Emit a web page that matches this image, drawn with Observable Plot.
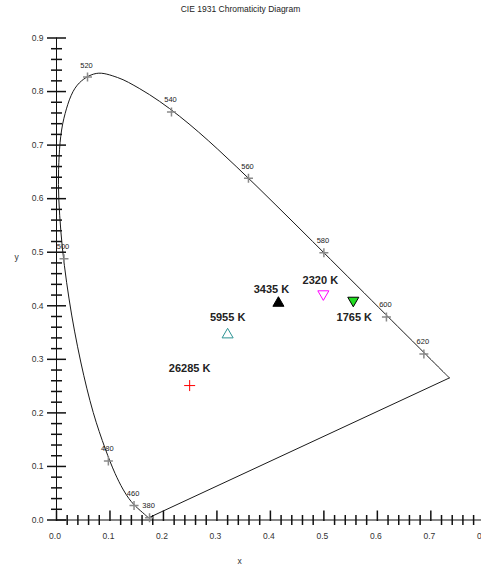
<!DOCTYPE html>
<html><head><meta charset="utf-8">
<script src="https://cdn.jsdelivr.net/npm/d3@7"></script>
<script src="https://cdn.jsdelivr.net/npm/@observablehq/plot@0.6"></script>
<style>
body{margin:0;background:#fff;}
#wrap{position:relative;width:481px;height:571px;overflow:hidden;font-family:"Liberation Sans",Arial,sans-serif;background:#fff;}
#title{position:absolute;top:4px;left:0;width:481px;text-align:center;font-size:8.5px;color:#222;line-height:10px;}
#chart{position:absolute;top:0;left:0;width:490px;}
#chart svg{max-width:none !important;width:490px !important;height:571px !important;}
</style></head><body>
<div id="wrap"><div id="title">CIE 1931 Chromaticity Diagram</div><div id="chart"></div></div>
<script>
// CIE 1931 spectral locus (5 nm steps, 380–700 nm)
const locusNm = [380,385,390,395,400,405,410,415,420,425,430,435,440,445,450,455,460,465,470,475,480,485,490,495,500,505,510,515,520,525,530,535,540,545,550,555,560,565,570,575,580,585,590,595,600,605,610,615,620,625,630,635,640,645,650,655,660,665,670,675,680,685,690,695,700];
const locusX = [0.1741,0.1740,0.1738,0.1736,0.1733,0.1730,0.1726,0.1721,0.1714,0.1703,0.1689,0.1669,0.1644,0.1611,0.1566,0.1510,0.1440,0.1355,0.1241,0.1096,0.0913,0.0687,0.0454,0.0235,0.0082,0.0039,0.0139,0.0389,0.0743,0.1142,0.1547,0.1929,0.2296,0.2658,0.3016,0.3373,0.3731,0.4087,0.4441,0.4788,0.5125,0.5448,0.5752,0.6029,0.6270,0.6482,0.6658,0.6801,0.6915,0.7006,0.7079,0.7140,0.7190,0.7230,0.7260,0.7283,0.7300,0.7311,0.7320,0.7327,0.7334,0.7340,0.7344,0.7346,0.7347];
const locusY = [0.0050,0.0050,0.0049,0.0049,0.0048,0.0048,0.0048,0.0048,0.0051,0.0058,0.0069,0.0086,0.0109,0.0138,0.0177,0.0227,0.0297,0.0399,0.0578,0.0868,0.1327,0.2007,0.2950,0.4127,0.5384,0.6548,0.7502,0.8120,0.8338,0.8262,0.8059,0.7816,0.7543,0.7243,0.6923,0.6589,0.6245,0.5896,0.5547,0.5202,0.4866,0.4544,0.4242,0.3965,0.3725,0.3514,0.3340,0.3197,0.3083,0.2993,0.2920,0.2859,0.2809,0.2770,0.2740,0.2717,0.2700,0.2689,0.2680,0.2673,0.2666,0.2660,0.2656,0.2654,0.2653];

// labelled wavelength markers
const markLabels = ["380","460","480","500","520","540","560","580","600","620"];
const markX = [0.174,0.145,0.097,0.014,0.058,0.215,0.359,0.500,0.617,0.687];
const markY = [0.004,0.027,0.110,0.488,0.827,0.762,0.638,0.499,0.379,0.310];

// colour temperature points
const cctLabels = ["26285 K","5955 K","3435 K","2320 K","1765 K"];
const cctX = [0.249,0.320,0.415,0.499,0.555];
const cctY = [0.251,0.346,0.405,0.422,0.410];

// axis ticks
const xTickLabels = ["0.0","0.1","0.2","0.3","0.4","0.5","0.6","0.7","0.8"];
const yTickLabels = ["0.0","0.1","0.2","0.3","0.4","0.5","0.6","0.7","0.8","0.9"];
const xMajor = xTickLabels.map(Number);
const yMajor = yTickLabels.map(Number);
const xMinor = d3.range(0, 41).map(i => i / 50).filter(v => Math.round(v * 50) % 5 !== 0);
const yMinor = d3.range(0, 46).map(i => i / 50).filter(v => Math.round(v * 50) % 5 !== 0);

const locus = locusNm.map((nm, i) => ({nm, x: locusX[i], y: locusY[i]}));
const purpleLine = [locus[locus.length - 1], locus[0]];
const marks = markLabels.map((t, i) => ({t, x: markX[i], y: markY[i]}));
const ccts = cctLabels.map((t, i) => ({t, x: cctX[i], y: cctY[i]}));

const hLine = l => ({draw(c){ c.moveTo(-l, 0); c.lineTo(l, 0); }});
const vLine = l => ({draw(c){ c.moveTo(0, -l); c.lineTo(0, l); }});
const vUp = l => ({draw(c){ c.moveTo(0, 1); c.lineTo(0, -l); }});
const plus = l => ({draw(c){ c.moveTo(-l, 0); c.lineTo(l, 0); c.moveTo(0, -l); c.lineTo(0, l); }});

const fontAxis = 8.5;
const byName = (...names) => d => names.includes(d.t);

const chart = Plot.plot({
  width: 490, height: 571,
  marginLeft: 56, marginRight: 6.2, marginTop: 37.5, marginBottom: 51.5,
  x: {domain: [0, 0.8], axis: null},
  y: {domain: [0, 0.9], axis: null},
  style: {fontFamily: "'Liberation Sans', Arial, sans-serif", background: "transparent"},
  marks: [
    Plot.ruleY([0], {stroke: "#111", strokeWidth: 1}),
    Plot.ruleX([0], {stroke: "#111", strokeWidth: 1}),
    Plot.dot(yMajor, {x: 0, y: d => d, r: 1, symbol: hLine(9.5), stroke: "#111", fill: "none"}),
    Plot.dot(yMinor, {x: 0, y: d => d, r: 1, symbol: hLine(5.5), stroke: "#111", fill: "none"}),
    Plot.dot(xMajor, {x: d => d, y: 0, r: 1, symbol: vUp(9.5), stroke: "#111", fill: "none"}),
    Plot.dot(xMinor, {x: d => d, y: 0, r: 1, symbol: vLine(5), stroke: "#111", fill: "none"}),
    Plot.text(yTickLabels, {x: 0, y: d => +d, text: d => d, dx: -13, textAnchor: "end", fontSize: fontAxis, fill: "#333"}),
    Plot.text(xTickLabels, {x: d => +d, y: 0, text: d => d, dy: 16, dx: -1.5, fontSize: fontAxis, fill: "#333"}),
    Plot.text(["x"], {frameAnchor: "bottom-left", dx: 181, dy: 43.5, text: d => d, fontSize: fontAxis, fill: "#333"}),
    Plot.text(["y"], {frameAnchor: "left", dx: -42, dy: -22, text: d => d, fontSize: fontAxis, fill: "#333"}),
    Plot.line(locus, {x: "x", y: "y", stroke: "#1a1a1a", strokeWidth: 1, curve: "catmull-rom"}),
    Plot.line(purpleLine, {x: "x", y: "y", stroke: "#1a1a1a", strokeWidth: 1}),
    Plot.dot(marks, {x: "x", y: "y", r: 1, symbol: plus(4.5), stroke: "#8a8a8a", fill: "none"}),
    Plot.text(marks, {x: "x", y: "y", text: "t", dy: -12, dx: -1, fontSize: 7.5, fill: "#222"}),
    // colour temperature points
    Plot.dot(ccts.filter(byName("26285 K")), {x: "x", y: "y", r: 1, symbol: plus(5.5), stroke: "#ff0000", fill: "none", strokeWidth: 1}),
    Plot.dot(ccts.filter(byName("5955 K")), {x: "x", y: "y", r: 4.1, symbol: "triangle", stroke: "#2e9494", fill: "white", strokeWidth: 1}),
    Plot.dot(ccts.filter(byName("3435 K")), {x: "x", y: "y", r: 4.1, symbol: "triangle", stroke: "#000", fill: "#000", strokeWidth: 1}),
    Plot.dot(ccts.filter(byName("2320 K")), {x: "x", y: "y", r: 4.1, symbol: "triangle", rotate: 180, stroke: "#ff00ff", fill: "white", strokeWidth: 1}),
    Plot.dot(ccts.filter(byName("1765 K")), {x: "x", y: "y", r: 4.1, symbol: "triangle", rotate: 180, stroke: "#000", fill: "#22dd22", strokeWidth: 1}),
    Plot.text(ccts.filter(byName("26285 K", "5955 K")), {x: "x", y: "y", text: "t", dy: -17.5, fontSize: 11, fontWeight: "bold", fill: "#222"}),
    Plot.text(ccts.filter(byName("3435 K")), {x: "x", y: "y", text: "t", dy: -14, dx: -7, fontSize: 11, fontWeight: "bold", fill: "#222"}),
    Plot.text(ccts.filter(byName("2320 K")), {x: "x", y: "y", text: "t", dy: -13.5, dx: -3, fontSize: 11, fontWeight: "bold", fill: "#222"}),
    Plot.text(ccts.filter(byName("1765 K")), {x: "x", y: "y", text: "t", dy: 17, dx: 1, fontSize: 11, fontWeight: "bold", fill: "#222"})
  ]
});
document.getElementById("chart").appendChild(chart);
</script>
</body></html>
